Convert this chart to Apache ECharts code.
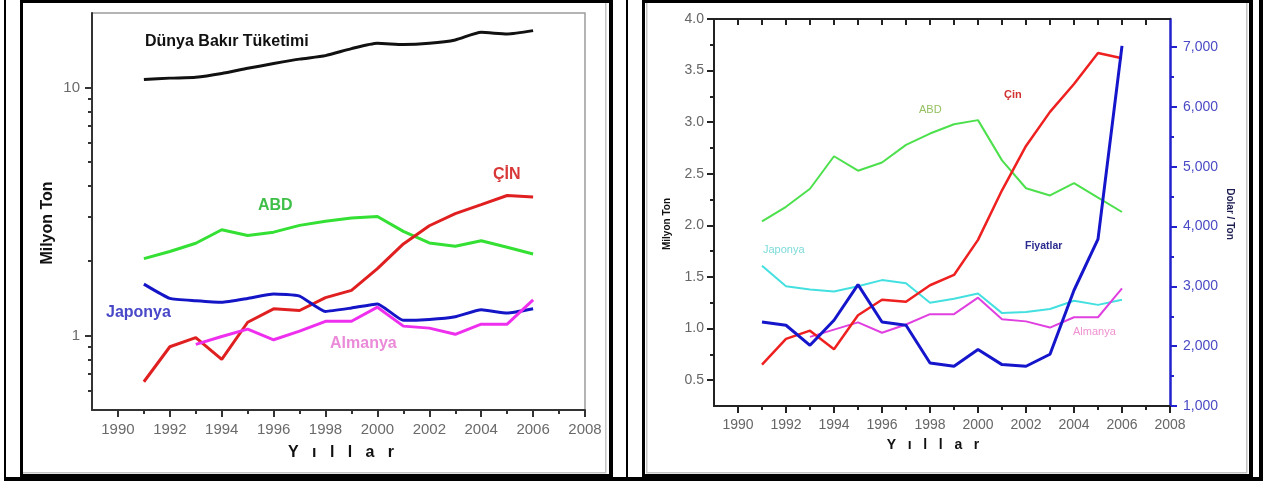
<!DOCTYPE html>
<html><head><meta charset="utf-8">
<script src="https://cdn.jsdelivr.net/npm/echarts@6/dist/echarts.min.js"></script>
<style>html,body{margin:0;padding:0;background:#fff;} #c{width:1263px;height:481px;}</style>
</head><body><div id="c"></div>
<script>
// ---------- data ----------
const years = [1991,1992,1993,1994,1995,1996,1997,1998,1999,2000,2001,2002,2003,2004,2005,2006];
const worldConsumption = [10.77,10.92,11.0,11.39,11.96,12.5,13.03,13.46,14.36,15.09,14.91,15.09,15.57,16.71,16.46,16.98];
const usa      = [2.04,2.18,2.355,2.67,2.53,2.61,2.78,2.89,2.98,3.02,2.63,2.36,2.29,2.41,2.27,2.13];
const china    = [0.65,0.90,0.98,0.80,1.13,1.28,1.26,1.42,1.52,1.86,2.34,2.77,3.10,3.37,3.67,3.62];
const japan    = [1.61,1.41,1.38,1.36,1.41,1.47,1.44,1.25,1.29,1.34,1.15,1.16,1.19,1.27,1.23,1.28];
const germany  = [null,null,0.92,0.99,1.06,0.96,1.04,1.14,1.14,1.30,1.09,1.07,1.01,1.11,1.11,1.39];
const copperPrice = [2405,2350,2015,2433,3030,2405,2350,1719,1664,1943,1692,1664,1865,2935,3790,7020];

const evenYearTicks = [1990,1992,1994,1996,1998,2000,2002,2004,2006,2008];
const oddYearTicks  = [1991,1993,1995,1997,1999,2001,2003,2005,2007];
const everyYearTicks = [1990,1991,1992,1993,1994,1995,1996,1997,1998,1999,2000,2001,2002,2003,2004,2005,2006,2007];
const logMajorTicks = [1,10];
const logMinorTicks = [0.6,0.7,0.8,0.9,2,3,4,5,6,7,8,9];
const tonMajorTicks = [0.5,1.0,1.5,2.0,2.5,3.0,3.5,4.0];
const tonMinorTicks = [0.75,1.25,1.75,2.25,2.75,3.25,3.75];
const priceMajorTicks = [1000,2000,3000,4000,5000,6000,7000];
const priceMinorTicks = [1500,2500,3500,4500,5500,6500];

// ---------- helpers ----------
const FONT = '"Liberation Sans", Arial, sans-serif';
const pairs = arr => years.map((y, i) => [y, arr[i]]);
const commas = v => String(v).replace(/\B(?=(\d{3})+(?!\d))/g, ',');

function txt(x, y, text, size, weight, color, align, rotation) {
  const el = {
    type: 'text', x: x, y: y, silent: true,
    style: { text: text, fontFamily: FONT, fontSize: size, fontWeight: weight, fill: color, align: align || 'left', verticalAlign: 'middle' }
  };
  if (rotation != null) el.rotation = rotation;
  return el;
}
function box(x, y, w, h, fill) {
  return { type: 'rect', silent: true, shape: { x: x, y: y, width: w, height: h }, style: { fill: fill } };
}

const chart = echarts.init(document.getElementById('c'), null, { renderer: 'canvas' });

const option = {
  animation: false,
  backgroundColor: '#fff',
  grid: [
    { left: 92, top: 13, width: 493, height: 397, show: true, borderColor: '#9c9c9c', borderWidth: 1.5, backgroundColor: 'rgba(0,0,0,0)' },
    { left: 714, top: 19, width: 456, height: 387, show: false }
  ],
  xAxis: [
    { // 0 left main
      gridIndex: 0, type: 'value', min: 1989, max: 2008, position: 'bottom',
      axisLine: { lineStyle: { color: '#333', width: 2 } },
      axisTick: { customValues: evenYearTicks, length: 7, lineStyle: { color: '#333', width: 2 } },
      axisLabel: { customValues: evenYearTicks, formatter: v => String(v), color: '#6a6a6a', fontSize: 15, fontFamily: FONT, margin: 12 },
      splitLine: { show: false }
    },
    { // 1 left minor
      gridIndex: 0, type: 'value', min: 1989, max: 2008, position: 'bottom',
      axisLine: { show: false },
      axisTick: { customValues: oddYearTicks, length: 4, lineStyle: { color: '#333', width: 2 } },
      axisLabel: { show: false }, splitLine: { show: false }
    },
    { // 2 right main
      gridIndex: 1, type: 'value', min: 1989, max: 2008, position: 'bottom',
      axisLine: { lineStyle: { color: '#222', width: 2 } },
      axisTick: { customValues: evenYearTicks, length: 7, lineStyle: { color: '#222', width: 2 } },
      axisLabel: { customValues: evenYearTicks, formatter: v => String(v), color: '#666', fontSize: 14, fontFamily: FONT, margin: 12 },
      splitLine: { show: false }
    },
    { // 3 right minor
      gridIndex: 1, type: 'value', min: 1989, max: 2008, position: 'bottom',
      axisLine: { show: false },
      axisTick: { customValues: oddYearTicks, length: 4, lineStyle: { color: '#222', width: 2 } },
      axisLabel: { show: false }, splitLine: { show: false }
    },
    { // 4 right top
      gridIndex: 1, type: 'value', min: 1989, max: 2008, position: 'top',
      axisLine: { lineStyle: { color: '#222', width: 2 } },
      axisTick: { customValues: everyYearTicks, inside: true, length: 6, lineStyle: { color: '#222', width: 2 } },
      axisLabel: { show: false }, splitLine: { show: false }
    }
  ],
  yAxis: [
    { // 0 left log main
      gridIndex: 0, type: 'log', logBase: 10, min: 0.5, max: 20, position: 'left',
      axisLine: { show: true, lineStyle: { color: '#333', width: 2 } },
      axisTick: { show: true, customValues: logMajorTicks, length: 7, lineStyle: { color: '#333', width: 2 } },
      axisLabel: { customValues: logMajorTicks, formatter: v => String(v), color: '#6a6a6a', fontSize: 15, fontFamily: FONT, margin: 12 },
      splitLine: { show: false }
    },
    { // 1 left log minor
      gridIndex: 0, type: 'log', logBase: 10, min: 0.5, max: 20, position: 'left',
      axisLine: { show: false },
      axisTick: { show: true, customValues: logMinorTicks, length: 4, lineStyle: { color: '#333', width: 2 } },
      axisLabel: { show: false }, splitLine: { show: false }
    },
    { // 2 right chart tons main
      gridIndex: 1, type: 'value', min: 0.25, max: 4.0, position: 'left',
      axisLine: { show: true, lineStyle: { color: '#222', width: 2 } },
      axisTick: { show: true, customValues: tonMajorTicks, length: 7, lineStyle: { color: '#222', width: 2 } },
      axisLabel: { customValues: tonMajorTicks, formatter: v => v.toFixed(1), color: '#666', fontSize: 14, fontFamily: FONT, margin: 10 },
      splitLine: { show: false }
    },
    { // 3 right chart tons minor
      gridIndex: 1, type: 'value', min: 0.25, max: 4.0, position: 'left',
      axisLine: { show: false },
      axisTick: { show: true, customValues: tonMinorTicks, length: 4, lineStyle: { color: '#222', width: 2 } },
      axisLabel: { show: false }, splitLine: { show: false }
    },
    { // 4 price main
      gridIndex: 1, type: 'value', min: 1000, max: 7470, position: 'right',
      axisLine: { show: true, lineStyle: { color: '#2222cc', width: 2.5 } },
      axisTick: { show: true, customValues: priceMajorTicks, length: 7, lineStyle: { color: '#2222cc', width: 2 } },
      axisLabel: { customValues: priceMajorTicks, formatter: v => commas(v), color: '#4a4ac4', fontSize: 14, fontFamily: FONT, margin: 13 },
      splitLine: { show: false }
    },
    { // 5 price minor
      gridIndex: 1, type: 'value', min: 1000, max: 7470, position: 'right',
      axisLine: { show: false },
      axisTick: { show: true, customValues: priceMinorTicks, length: 4, lineStyle: { color: '#2222cc', width: 2 } },
      axisLabel: { show: false }, splitLine: { show: false }
    }
  ],
  series: [
    // left chart (log)
    { name: 'Dünya Bakır Tüketimi', type: 'line', xAxisIndex: 0, yAxisIndex: 0, data: pairs(worldConsumption), showSymbol: false, smooth: 0.2, lineStyle: { color: '#111', width: 3 } },
    { name: 'ABD', type: 'line', xAxisIndex: 0, yAxisIndex: 0, data: pairs(usa), showSymbol: false, lineStyle: { color: '#33e033', width: 3 } },
    { name: 'ÇİN', type: 'line', xAxisIndex: 0, yAxisIndex: 0, data: pairs(china), showSymbol: false, lineStyle: { color: '#e02020', width: 3 } },
    { name: 'Japonya', type: 'line', xAxisIndex: 0, yAxisIndex: 0, data: pairs(japan), showSymbol: false, smooth: 0.15, lineStyle: { color: '#1515c8', width: 3 } },
    { name: 'Almanya', type: 'line', xAxisIndex: 0, yAxisIndex: 0, data: pairs(germany), showSymbol: false, lineStyle: { color: '#ee30ee', width: 3 } },
    // right chart (linear)
    { name: 'ABD2', type: 'line', xAxisIndex: 2, yAxisIndex: 2, data: pairs(usa), showSymbol: false, lineStyle: { color: '#4ce04c', width: 2 } },
    { name: 'Japonya2', type: 'line', xAxisIndex: 2, yAxisIndex: 2, data: pairs(japan), showSymbol: false, lineStyle: { color: '#44e0e0', width: 2 } },
    { name: 'Almanya2', type: 'line', xAxisIndex: 2, yAxisIndex: 2, data: pairs(germany), showSymbol: false, lineStyle: { color: '#e040e0', width: 2 } },
    { name: 'Çin2', type: 'line', xAxisIndex: 2, yAxisIndex: 2, data: pairs(china), showSymbol: false, lineStyle: { color: '#ee2020', width: 2.5 } },
    { name: 'Fiyatlar', type: 'line', xAxisIndex: 2, yAxisIndex: 4, data: pairs(copperPrice), showSymbol: false, lineStyle: { color: '#1515cc', width: 3 } }
  ],
  graphic: [
    // table & frames
    box(4, 0, 2, 481, '#000'),
    box(1259, 0, 4, 481, '#000'),
    box(4, 477, 1259, 4, '#000'),
    box(626, 0, 2, 481, '#000'),
    box(20, 0, 593, 3, '#000'),
    box(20, 0, 3, 478, '#000'),
    box(609, 0, 4, 478, '#000'),
    box(20, 474, 593, 4, '#000'),
    box(605, 3, 1.5, 470, '#c4c4c4'),
    box(23, 472, 583, 1.5, '#c4c4c4'),
    box(642, 0, 611, 3, '#000'),
    box(642, 0, 3, 478, '#000'),
    box(1249, 0, 4, 478, '#000'),
    box(642, 474, 611, 4, '#000'),
    box(646, 3, 1.5, 470, '#c4c4c4'),
    box(1246, 3, 1.5, 470, '#c4c4c4'),
    box(646, 472, 601, 1.5, '#c4c4c4'),
    // left chart texts
    txt(48, 223, 'Milyon Ton', 16, 'bold', '#111', 'center', Math.PI / 2),
    txt(341, 453, 'Y   ı   l   l   a   r', 16, 'bold', '#111', 'center'),
    txt(145, 42, 'Dünya Bakır Tüketimi', 16, 'bold', '#111'),
    txt(258, 206, 'ABD', 16, 'bold', '#3fbf48'),
    txt(493, 175, 'ÇİN', 16, 'bold', '#d83838'),
    txt(106, 313, 'Japonya', 16, 'bold', '#4848c8'),
    txt(330, 344, 'Almanya', 16, 'bold', '#ea8ad8'),
    // right chart texts
    txt(667, 224, 'Milyon Ton', 10, 'bold', '#111', 'center', Math.PI / 2),
    txt(1230, 214, 'Dolar / Ton', 10, 'bold', '#1c1c50', 'center', -Math.PI / 2),
    txt(933, 445, 'Y   ı   l   l   a   r', 14, 'bold', '#111', 'center'),
    txt(919, 110, 'ABD', 11, 'normal', '#94c060'),
    txt(1004, 95, 'Çin', 11, 'bold', '#d03030'),
    txt(1025, 246, 'Fiyatlar', 10.5, 'bold', '#2a2a90'),
    txt(763, 250, 'Japonya', 11, 'normal', '#7ddada'),
    txt(1073, 332, 'Almanya', 11, 'normal', '#f090d0')
  ]
};
chart.setOption(option);
</script>
</body></html>
